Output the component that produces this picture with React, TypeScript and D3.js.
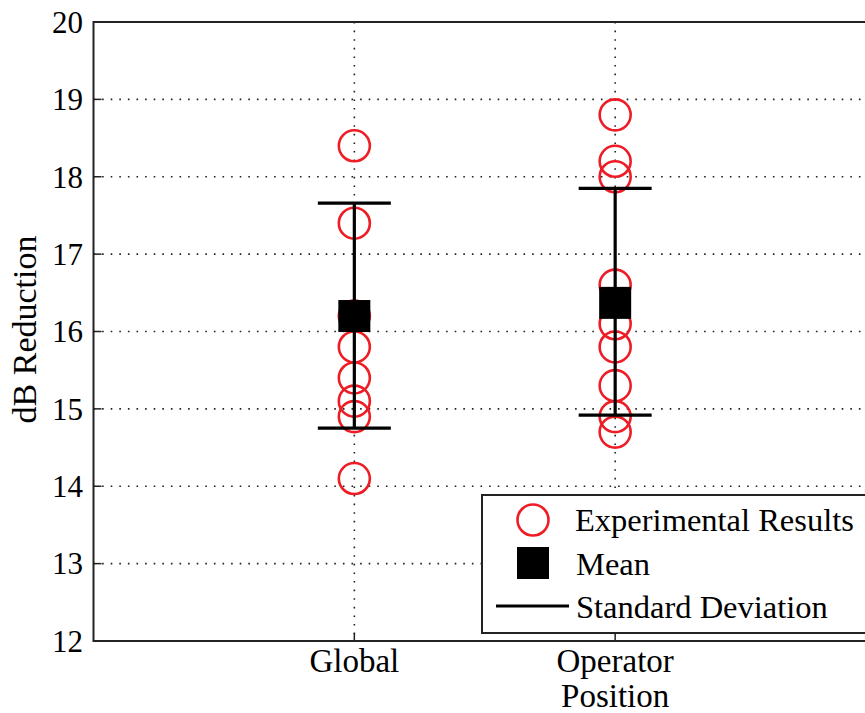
import React from "react";
import * as d3 from "d3";

const categories = ["Global", "Operator Position"];
const categoryLines = [["Global"], ["Operator", "Position"]];
const globalResults = [18.4, 17.4, 16.2, 15.8, 15.4, 15.1, 14.9, 14.1];
const operatorResults = [18.8, 18.2, 18.0, 16.6, 16.1, 15.8, 15.3, 14.9, 14.7];
const means = [16.2, 16.37];
const stdLower = [14.75, 14.92];
const stdUpper = [17.66, 17.85];
const yTicks = [12, 13, 14, 15, 16, 17, 18, 19, 20];
const legendLabels = ["Experimental Results", "Mean", "Standard Deviation"];

const W = 865;
const H = 713;
const RED = "#ee1c25";
const FONT = "'Liberation Serif', 'Times New Roman', serif";

export default function App() {
  const left = 93.5;
  const right = 876;
  const top = 22;
  const bottom = 641;
  const x = d3.scaleLinear().domain([0, 3]).range([left, right]);
  const y = d3.scaleLinear().domain([12, 20]).range([bottom, top]);
  const results = [globalResults, operatorResults];
  const capHalf = 36.5;
  const sq = 32;
  const r = 15.5;

  return (
    <svg
      width={W}
      height={H}
      style={{ position: "absolute", left: 0, top: 0, background: "#fff" }}
      fontFamily={FONT}
    >
      <rect x={0} y={0} width={W} height={H} fill="#fff" />
      {/* grid */}
      {yTicks.slice(1, -1).map((t) => (
        <line
          key={"gy" + t}
          x1={left}
          x2={right}
          y1={y(t)}
          y2={y(t)}
          stroke="#222"
          strokeWidth={1.6}
          strokeDasharray="1.6 7"
        />
      ))}
      {categories.map((c, i) => (
        <line
          key={"gx" + c}
          x1={x(i + 1)}
          x2={x(i + 1)}
          y1={top}
          y2={bottom}
          stroke="#222"
          strokeWidth={1.6}
          strokeDasharray="1.6 7"
        />
      ))}
      {/* ticks */}
      {yTicks.map((t) => (
        <line key={"ty" + t} x1={left} x2={left + 8} y1={y(t)} y2={y(t)} stroke="#222" strokeWidth={1.5} />
      ))}
      {categories.map((c, i) => (
        <line key={"tx" + c} x1={x(i + 1)} x2={x(i + 1)} y1={bottom} y2={bottom - 8} stroke="#222" strokeWidth={1.5} />
      ))}
      {/* results */}
      {results.map((vals, i) =>
        vals.map((v, j) => (
          <circle
            key={"c" + i + "-" + j}
            cx={x(i + 1)}
            cy={y(v)}
            r={r}
            fill="none"
            stroke={RED}
            strokeWidth={2.6}
          />
        ))
      )}
      {/* std dev */}
      {categories.map((c, i) => (
        <g key={"e" + c} stroke="#000" strokeWidth={3.2}>
          <line x1={x(i + 1)} x2={x(i + 1)} y1={y(stdLower[i])} y2={y(stdUpper[i])} />
          <line x1={x(i + 1) - capHalf} x2={x(i + 1) + capHalf} y1={y(stdLower[i])} y2={y(stdLower[i])} />
          <line x1={x(i + 1) - capHalf} x2={x(i + 1) + capHalf} y1={y(stdUpper[i])} y2={y(stdUpper[i])} />
        </g>
      ))}
      {/* means */}
      {means.map((m, i) => (
        <rect key={"m" + i} x={x(i + 1) - sq / 2} y={y(m) - sq / 2} width={sq} height={sq} fill="#000" />
      ))}
      {/* axes box */}
      <rect x={left} y={top} width={right - left} height={bottom - top} fill="none" stroke="#222" strokeWidth={2} />
      {/* y tick labels */}
      {yTicks.map((t) => (
        <text key={"yl" + t} x={83} y={y(t)} dy="0.35em" textAnchor="end" fontSize={31} fill="#000">
          {t}
        </text>
      ))}
      {/* x tick labels */}
      {categoryLines.map((lines, i) => (
        <text key={"xl" + i} x={x(i + 1)} y={672} textAnchor="middle" fontSize={33} fill="#000">
          {lines.map((ln, k) => (
            <tspan key={k} x={x(i + 1)} dy={k === 0 ? 0 : 35}>
              {ln}
            </tspan>
          ))}
        </text>
      ))}
      {/* y label */}
      <text
        transform={`translate(36, ${(top + bottom) / 2 - 2}) rotate(-90)`}
        textAnchor="middle"
        fontSize={34}
        fill="#000"
      >
        dB Reduction
      </text>
      {/* legend */}
      <g>
        <rect x={482} y={495} width={420} height={138} fill="#fff" stroke="#222" strokeWidth={2} />
        <circle cx={533} cy={520} r={r} fill="none" stroke={RED} strokeWidth={2.6} />
        <rect x={533 - sq / 2} y={563 - sq / 2} width={sq} height={sq} fill="#000" />
        <line x1={496} x2={569} y1={606} y2={606} stroke="#000" strokeWidth={3} />
        <text x={575} y={531} fontSize={32.5} fill="#000">{legendLabels[0]}</text>
        <text x={576} y={575} fontSize={32.5} fill="#000">{legendLabels[1]}</text>
        <text x={576} y={618} fontSize={32.5} fill="#000">{legendLabels[2]}</text>
      </g>
    </svg>
  );
}
